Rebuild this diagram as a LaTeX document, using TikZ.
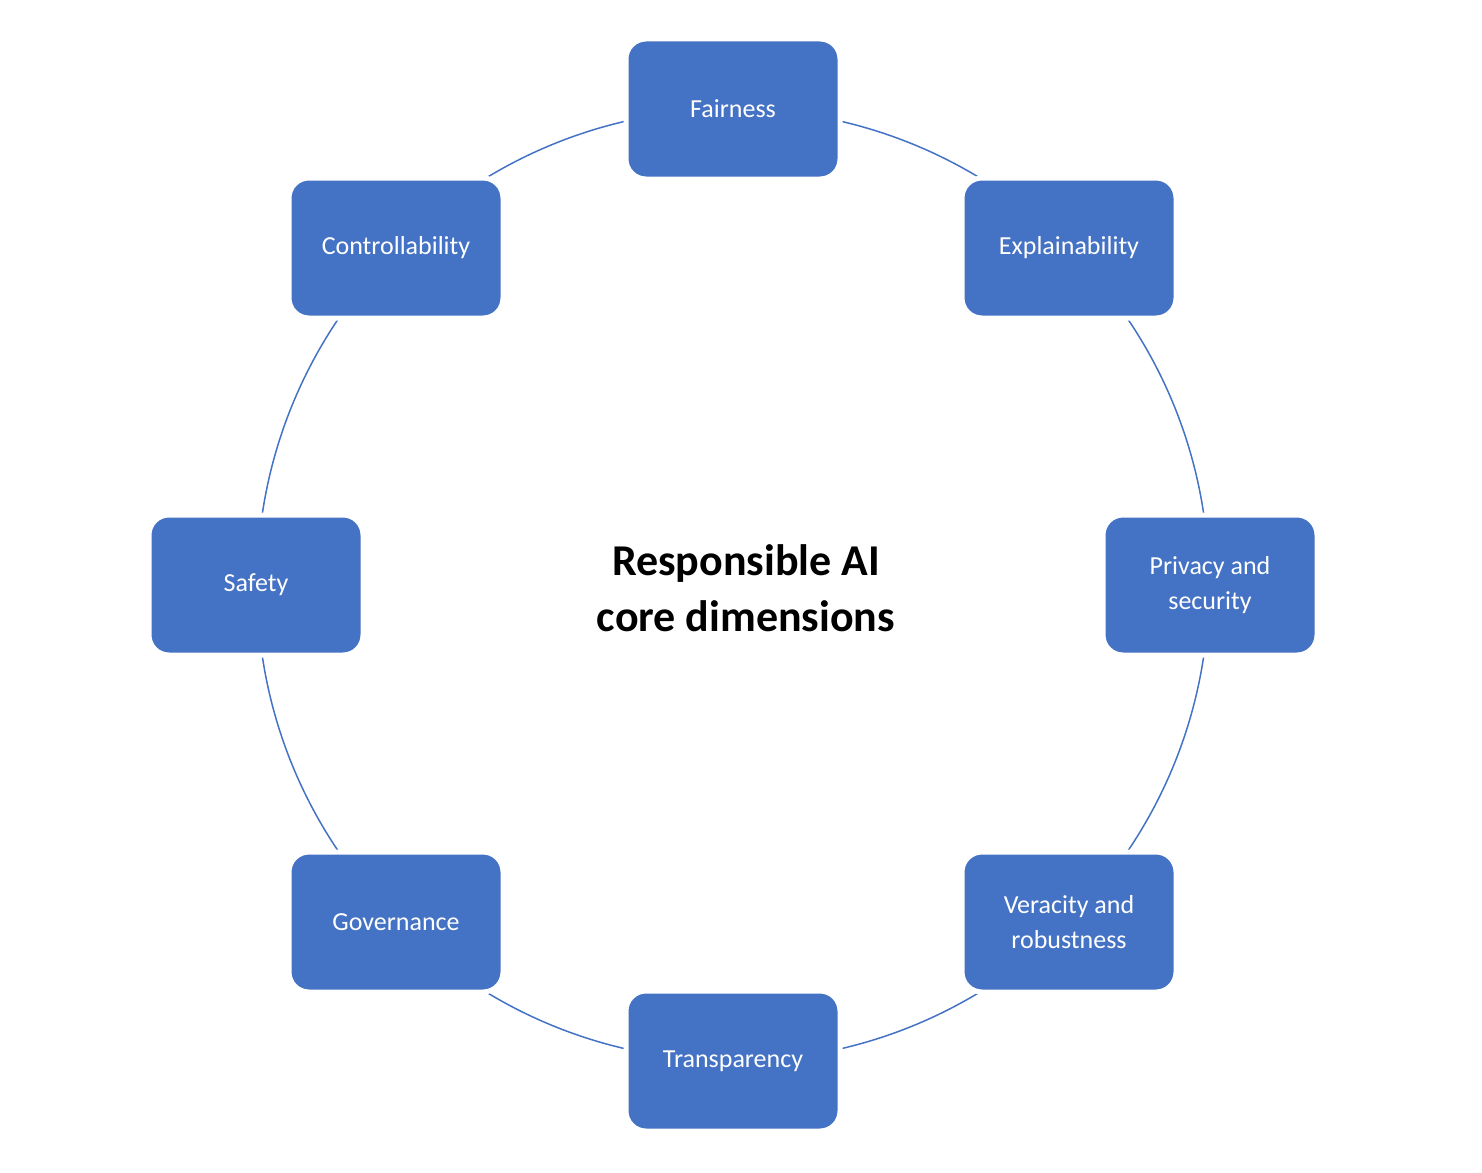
\documentclass[tikz,border=0pt]{standalone}
\usepackage{fontspec}
\setmainfont{Carlito}
\definecolor{boxblue}{HTML}{4472C4}
\begin{document}
\begin{tikzpicture}[x=1pt,y=-1pt,
  box/.style={rectangle,rounded corners=20pt,fill=boxblue,draw=white,line width=5pt,
    minimum width=214pt,minimum height=140pt,text=white,align=center,
    font=\fontsize{26}{35}\selectfont},
  ring/.style={circle,draw=boxblue,line width=1.5pt,minimum size=952pt,inner sep=0pt}]
\useasboundingbox (0,0) rectangle (1482,1172);
\node[ring] (ring) at (733,585) {};
\node[font=\bfseries\fontsize{44}{56}\selectfont,align=center] (title) at (746,588) {Responsible AI\\core dimensions};
\node[box] (fair) at (733,109) {Fairness};
\node[box] (expl) at (1069,248) {Explainability};
\node[box] (priv) at (1210,585) {Privacy and\\security};
\node[box] (vera) at (1069,922) {Veracity and\\robustness};
\node[box] (tran) at (733,1061) {Transparency};
\node[box] (gov) at (396,922) {Governance};
\node[box] (safe) at (256,585) {Safety};
\node[box] (ctrl) at (396,248) {Controllability};
\end{tikzpicture}
\end{document}
